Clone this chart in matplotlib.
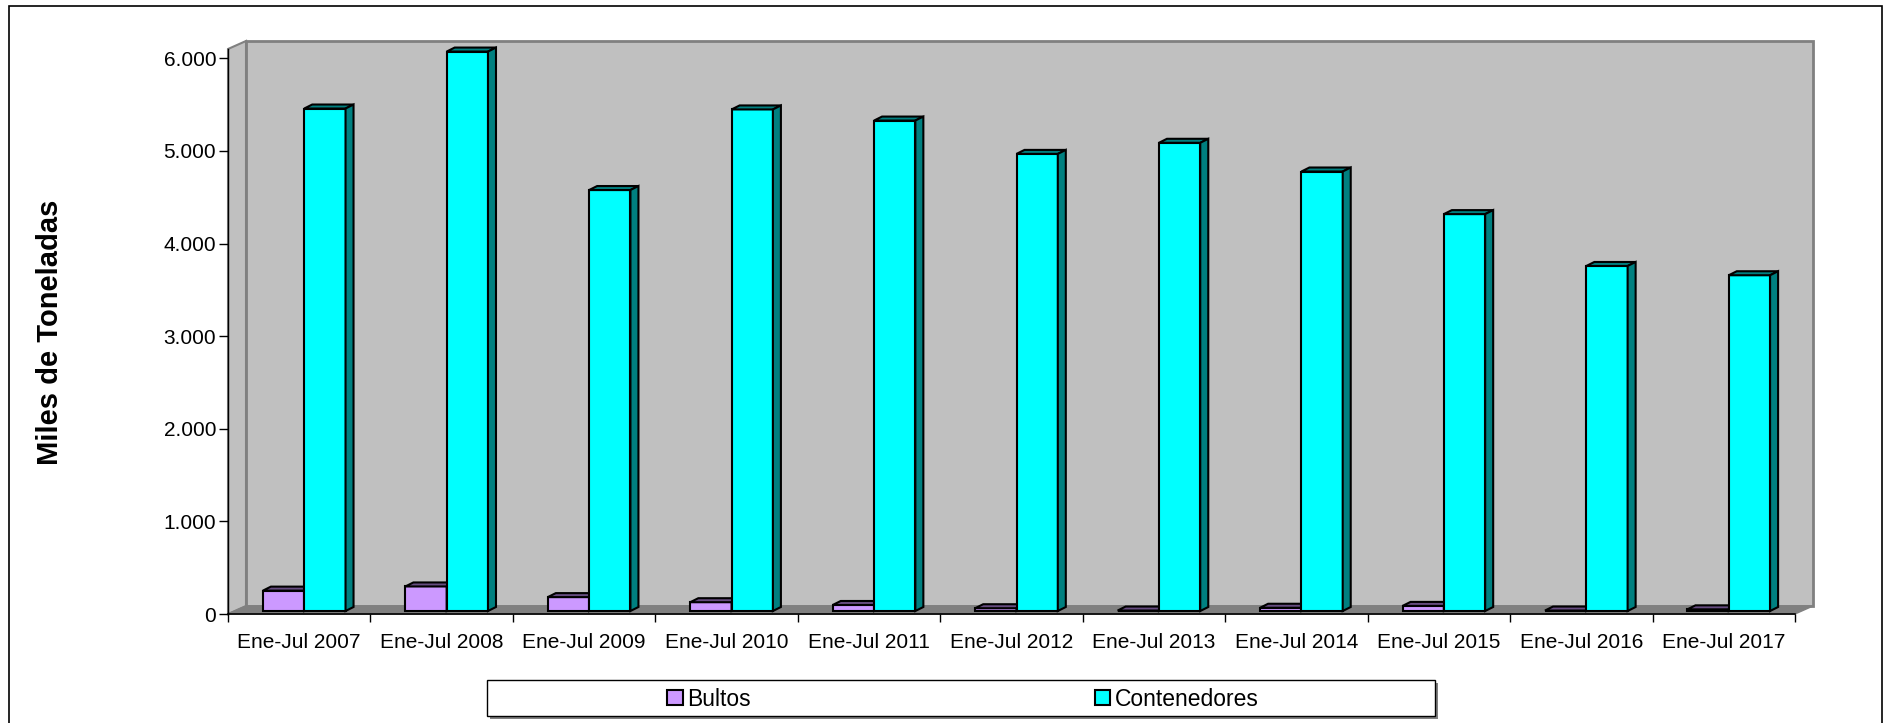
# Ene-Jul cargo tonnage chart (Bultos vs Contenedores), Excel-style 3D columns
import numpy as np
import matplotlib
matplotlib.use("Agg")
import matplotlib.pyplot as plt
from matplotlib.patches import Rectangle, Polygon
from matplotlib.transforms import offset_copy, IdentityTransform
from matplotlib.ticker import FixedLocator, FixedFormatter, NullFormatter, MultipleLocator, FuncFormatter

plt.rcParams['font.family'] = ['Liberation Sans', 'DejaVu Sans']

periods = ['Ene-Jul 2007', 'Ene-Jul 2008', 'Ene-Jul 2009', 'Ene-Jul 2010', 'Ene-Jul 2011',
           'Ene-Jul 2012', 'Ene-Jul 2013', 'Ene-Jul 2014', 'Ene-Jul 2015', 'Ene-Jul 2016',
           'Ene-Jul 2017']
bultos = [220, 265, 150, 95, 65, 30, 5, 35, 55, 5, 18]
contenedores = [5425, 6040, 4545, 5415, 5295, 4935, 5055, 4745, 4285, 3725, 3625]
series_names = ['Bultos', 'Contenedores']

W, H = 1888, 723
fig = plt.figure(figsize=(W / 100, H / 100), dpi=100)


def fx(px):
    return px / W


def fy(py):
    # pixel measured from the top of the picture -> figure fraction
    return 1 - py / H


ax = fig.add_axes([fx(228), fy(614), (1795 - 228) / W, (614 - 49) / H])
ax.patch.set_visible(False)
ax.set_xlim(-0.5, 10.5)
ax.set_ylim(0, 6100)

# depth of the chart box and of each column, in pixels
wall_dx, wall_dy = 18, 8
bar_dx, bar_dy = 8, 4


def disp(x, y, dx=0, dy=0):
    p = ax.transData.transform((x, y))
    return (p[0] + dx, p[1] + dy)


# back wall, left wall and floor
wall_t = offset_copy(ax.transData, fig=fig, x=wall_dx, y=wall_dy, units='dots')
ax.add_patch(Rectangle((-0.5, 0), 11, 6100, transform=wall_t, fc='#C0C0C0',
                       ec='#808080', lw=2, zorder=0.5, clip_on=False))
left_wall = [disp(-0.5, 0), disp(-0.5, 6100), disp(-0.5, 6100, wall_dx, wall_dy),
             disp(-0.5, 0, wall_dx, wall_dy)]
ax.add_patch(Polygon(left_wall, closed=True, transform=IdentityTransform(), fc='#C0C0C0',
                     ec='#808080', lw=1.5, zorder=0.6, clip_on=False))
floor = [disp(-0.5, 0), disp(10.5, 0), disp(10.5, 0, wall_dx, wall_dy),
         disp(-0.5, 0, wall_dx, wall_dy)]
ax.add_patch(Polygon(floor, closed=True, transform=IdentityTransform(), fc='#808080',
                     ec='#808080', lw=1, zorder=0.7, clip_on=False))

# columns
bar_t = offset_copy(ax.transData, fig=fig, x=5, y=3, units='dots')
w = 0.29
x = np.arange(len(periods))
styles = [('#CC99FF', '#664C80'), ('#00FFFF', '#008080')]
containers = []
for k, (vals, off) in enumerate([(bultos, -w / 2), (contenedores, w / 2)]):
    front, dark = styles[k]
    bc = ax.bar(x + off, vals, width=w, color=front, edgecolor='black', lw=1.5,
                transform=bar_t, zorder=2 + k, clip_on=False)
    containers.append(bc)
    for r in bc:
        bb = r.get_bbox()
        (x0, y0), (x1, y1) = bar_t.transform([(bb.x0, bb.y0), (bb.x1, bb.y1)])
        top = [(x0, y1), (x1, y1), (x1 + bar_dx, y1 + bar_dy), (x0 + bar_dx, y1 + bar_dy)]
        side = [(x1, y0), (x1, y1), (x1 + bar_dx, y1 + bar_dy), (x1 + bar_dx, y0 + bar_dy)]
        for pts in (top, side):
            ax.add_patch(Polygon(pts, closed=True, transform=IdentityTransform(), fc=dark,
                                 ec='black', lw=1.5, zorder=2 + k, clip_on=False))

ax.set_xlim(-0.5, 10.5)
ax.set_ylim(0, 6100)

# axes
for s in ('top', 'right'):
    ax.spines[s].set_visible(False)
ax.spines['left'].set_color('black')
ax.spines['bottom'].set_color('black')
ax.spines['left'].set_linewidth(1)
ax.spines['bottom'].set_linewidth(1.2)
ax.spines['left'].set_zorder(5)
ax.spines['bottom'].set_zorder(5)

ax.xaxis.set_major_locator(FixedLocator(np.arange(-0.5, 11, 1)))
ax.xaxis.set_major_formatter(NullFormatter())
ax.xaxis.set_minor_locator(FixedLocator(x))
ax.xaxis.set_minor_formatter(FixedFormatter(periods))
ax.tick_params(axis='x', which='major', length=6, width=1, color='black')
ax.tick_params(axis='x', which='minor', length=0, pad=14, labelsize=15)

ax.yaxis.set_major_locator(MultipleLocator(1000))
ax.yaxis.set_major_formatter(FuncFormatter(lambda v, p: f"{v:,.0f}".replace(',', '.')))
ax.tick_params(axis='y', length=6.5, width=1, pad=2, labelsize=15, color='black')

fig.text(fx(50), fy(332), 'Miles de Toneladas', rotation=90, fontsize=21,
         fontweight='bold', ha='center', va='center')

# legend box with shadow
fig.add_artist(Rectangle((fx(490), fy(719)), (1435 - 487) / W, 36 / H, transform=fig.transFigure,
                         fc='#808080', ec='none', zorder=1))
fig.add_artist(Rectangle((fx(487), fy(716)), (1435 - 487) / W, 36 / H, transform=fig.transFigure,
                         fc='white', ec='black', lw=1, zorder=1.1))
fig.legend(containers, series_names, loc='center', bbox_to_anchor=(fx(963), fy(699)),
           ncol=2, frameon=False, fontsize=16.5, handlelength=0.68, handleheight=0.68,
           handletextpad=0.2, columnspacing=15.0, borderpad=0)

# outer chart border (runs off the bottom)
fig.add_artist(Rectangle((fx(9), -0.05), (1882 - 9) / W, fy(6) + 0.05, transform=fig.transFigure,
                         fill=False, ec='black', lw=1.2))

fig.savefig('out.png', dpi=100)
